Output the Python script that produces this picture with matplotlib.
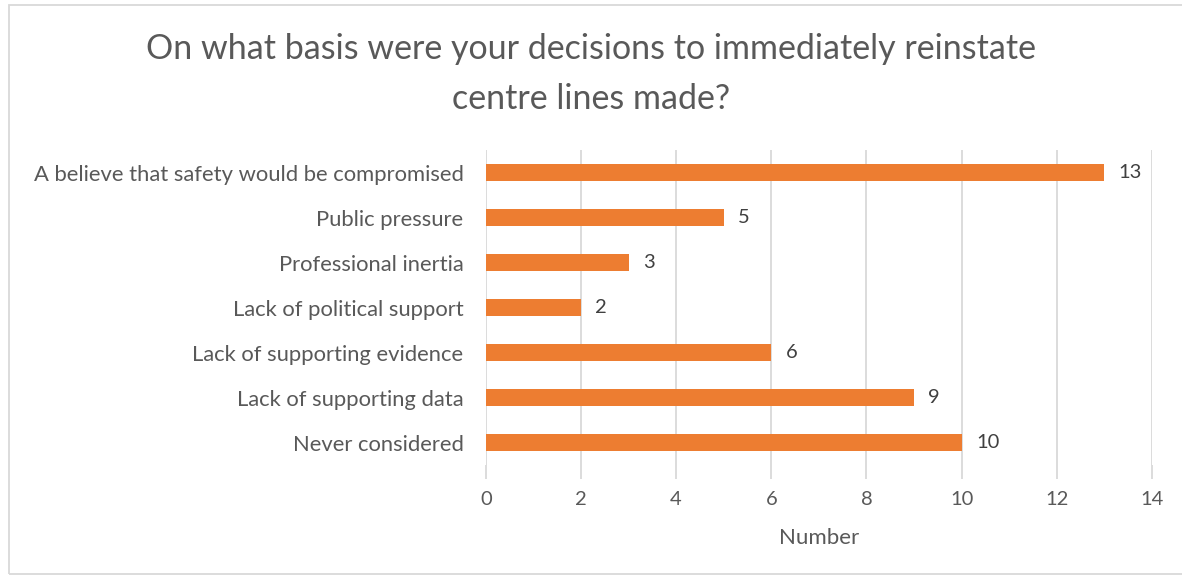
import matplotlib.pyplot as plt
from matplotlib.patches import Rectangle

plt.rcParams['font.family'] = ['Lato', 'DejaVu Sans']

categories = ['Never considered', 'Lack of supporting data', 'Lack of supporting evidence',
              'Lack of political support', 'Professional inertia', 'Public pressure',
              'A believe that safety would be compromised']
counts = [10, 9, 6, 2, 3, 5, 13]
xticks = [0, 2, 4, 6, 8, 10, 12, 14]

text_col = '#595959'
grid_col = '#D9D9D9'
bar_col = '#ED7D31'

fig = plt.figure(figsize=(11.82, 5.77), dpi=100)
ax = fig.add_axes([0.411, 0.194, 0.5636, 0.546])

ax.barh(range(len(categories)), counts, height=0.36, color=bar_col, zorder=3)
for i, v in enumerate(counts):
    ax.text(v + 0.3, i, str(v), va='center', ha='left', fontsize=14.5, color='#404040')

ax.set_xlim(0, 14)
ax.set_ylim(-0.5, len(categories) - 0.5)
ax.set_xticks(xticks)
ax.set_yticks(range(len(categories)))
ax.set_yticklabels(categories)
ax.grid(axis='x', color=grid_col, linewidth=1.3, zorder=0)
for s in ax.spines.values():
    s.set_visible(False)
ax.tick_params(axis='x', length=10, width=1.3, color=grid_col, labelcolor=text_col,
               labelsize=14.5, pad=9)
ax.tick_params(axis='y', length=0, labelcolor=text_col, labelsize=15.8, pad=16)
ax.set_xlabel('Number', fontsize=16, color=text_col, labelpad=14)

fig.text(0.5, 0.915, 'On what basis were your decisions to immediately reinstate',
         ha='center', va='center', fontsize=24.5, color=text_col)
fig.text(0.5, 0.828, 'centre lines made?', ha='center', va='center', fontsize=24.5, color=text_col)

fig.patches.append(Rectangle((0.0076, 0.005), 1.5, 0.986, transform=fig.transFigure,
                             fill=False, edgecolor=grid_col, linewidth=1.3))

fig.savefig('out.png', dpi=100)
